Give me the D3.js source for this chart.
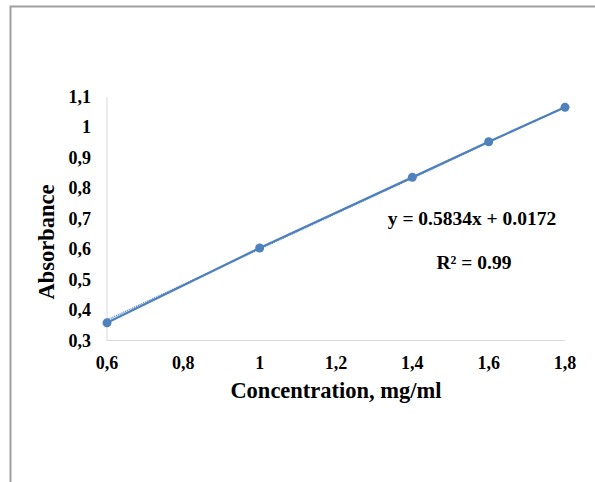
<!DOCTYPE html>
<html>
<head>
<meta charset="utf-8">
<script src="https://cdn.jsdelivr.net/npm/d3@7"></script>
<style>
  body { margin: 0; background: #fff; }
  svg text { font-family: "Liberation Serif", "Times New Roman", "DejaVu Serif", serif; font-weight: bold; fill: #000; }
</style>
</head>
<body>
<svg id="chart" width="595" height="482"></svg>
<script>
// data
const concentration = [0.6, 1.0, 1.4, 1.6, 1.8];
const absorbance = [0.358, 0.604, 0.836, 0.953, 1.066];
const xTicks = [0.6, 0.8, 1.0, 1.2, 1.4, 1.6, 1.8];
const yTicks = [0.3, 0.4, 0.5, 0.6, 0.7, 0.8, 0.9, 1.0, 1.1];
const slope = 0.5834, intercept = 0.0172;

const svg = d3.select("#chart");
const fmt = (d) => d3.format("~g")(d).replace(".", ",");

// outer frame (only top and left edges visible in the crop)
svg.append("path")
    .attr("d", "M10.5,482V6.5H595")
    .attr("fill", "none")
    .attr("stroke", "#a0a0a0")
    .attr("stroke-width", 2);

const x = d3.scaleLinear().domain([0.6, 1.8]).range([107, 565]);
const y = d3.scaleLinear().domain([0.3, 1.1]).range([340.5, 97]);

// axis lines
svg.append("line")
    .attr("x1", x(0.6)).attr("x2", x(0.6))
    .attr("y1", y(1.1)).attr("y2", y(0.3))
    .attr("stroke", "#d9d9d9");
svg.append("line")
    .attr("x1", x(0.6)).attr("x2", x(1.8))
    .attr("y1", y(0.3)).attr("y2", y(0.3))
    .attr("stroke", "#d9d9d9");

// tick labels
svg.selectAll(".ytick").data(yTicks).join("text")
    .attr("x", 91)
    .attr("y", (d) => y(d) + 6)
    .attr("text-anchor", "end")
    .attr("font-size", 18)
    .text(fmt);
svg.selectAll(".xtick").data(xTicks).join("text")
    .attr("x", (d) => x(d))
    .attr("y", 369)
    .attr("text-anchor", "middle")
    .attr("font-size", 18)
    .text(fmt);

// axis titles
svg.append("text")
    .attr("x", 336).attr("y", 398)
    .attr("text-anchor", "middle")
    .attr("font-size", 22.5)
    .text("Concentration, mg/ml");
svg.append("text")
    .attr("transform", `translate(54,242)rotate(-90)`)
    .attr("text-anchor", "middle")
    .attr("font-size", 22.5)
    .text("Absorbance");

// series line + markers
const pts = concentration.map((c, i) => [c, absorbance[i]]);
svg.append("path")
    .datum(pts)
    .attr("d", d3.line().x((d) => x(d[0])).y((d) => y(d[1])))
    .attr("fill", "none")
    .attr("stroke", "#4f81bd")
    .attr("stroke-width", 2.25);

// linear trendline (dotted)
svg.append("line")
    .attr("x1", x(0.6)).attr("y1", y(slope * 0.6 + intercept))
    .attr("x2", x(1.8)).attr("y2", y(slope * 1.8 + intercept))
    .attr("stroke", "#4f81bd")
    .attr("stroke-width", 1.5)
    .attr("stroke-dasharray", "1,1");

svg.selectAll(".pt").data(pts).join("circle")
    .attr("cx", (d) => x(d[0]))
    .attr("cy", (d) => y(d[1]))
    .attr("r", 4.5)
    .attr("fill", "#4f81bd");

// equation labels
svg.append("text")
    .attr("x", 472).attr("y", 225)
    .attr("text-anchor", "middle")
    .attr("font-size", 19.5)
    .text("y = 0.5834x + 0.0172");
svg.append("text")
    .attr("x", 474).attr("y", 269)
    .attr("text-anchor", "middle")
    .attr("font-size", 19.5)
    .text("R² = 0.99");
</script>
</body>
</html>
